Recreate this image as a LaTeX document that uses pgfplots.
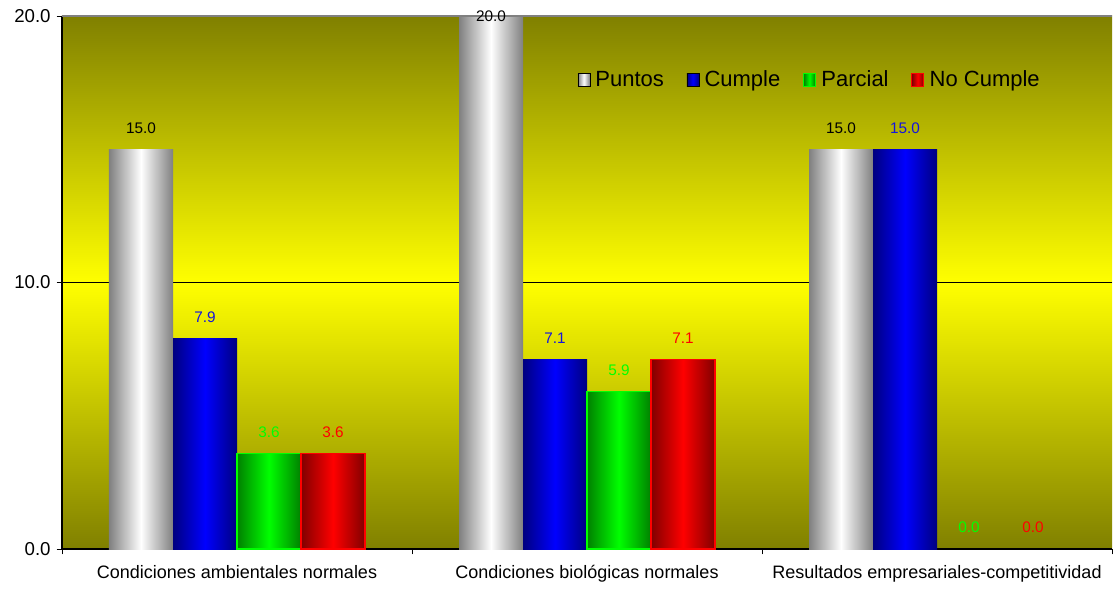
\documentclass[border=0pt]{standalone}
\usepackage{fontspec}
\setmainfont{Liberation Sans}
\usepackage{pgfplots}
\pgfplotsset{compat=1.18}
\definecolor{olivebg}{RGB}{128,128,0}
\definecolor{yellowbg}{RGB}{255,255,0}
\definecolor{grayedge}{RGB}{128,128,128}
\definecolor{blueedge}{RGB}{0,0,128}
\definecolor{bluemid}{RGB}{0,0,255}
\definecolor{greenedge}{RGB}{0,128,0}
\definecolor{greenmid}{RGB}{0,255,0}
\definecolor{rededge}{RGB}{128,0,0}
\definecolor{redmid}{RGB}{255,0,0}
\definecolor{bluelbl}{RGB}{20,20,220}
\pgfplotsset{
  puntos/.style={draw=none, left color=grayedge, right color=grayedge, middle color=white,
    every node near coord/.append style={black}},
  cumple/.style={draw=none, left color=blueedge, right color=blueedge, middle color=bluemid,
    every node near coord/.append style={bluelbl}},
  parcial/.style={draw=greenmid, line width=0.8pt, left color=greenedge, right color=greenedge, middle color=greenmid,
    every node near coord/.append style={greenmid}},
  nocumple/.style={draw=redmid, line width=0.8pt, left color=rededge, right color=rededge, middle color=redmid,
    every node near coord/.append style={redmid}},
}
\begin{document}
\begin{tikzpicture}
\shade[top color=yellowbg, bottom color=olivebg] (0,0) rectangle (787.5pt,199.875pt);
\shade[top color=olivebg, bottom color=yellowbg] (0,199.875pt) rectangle (787.5pt,399.75pt);
\begin{axis}[
  at={(0,0)}, anchor=south west,
  scale only axis, width=787.5pt, height=399.75pt,
  xmin=-0.5, xmax=2.5, ymin=0, ymax=20,
  ybar, bar width=48pt,
  xtick={-0.5,0.5,1.5,2.5},
  x tick label as interval,
  xticklabels={Condiciones ambientales normales,Condiciones biológicas normales,Resultados empresariales-competitividad},
  xticklabel style={font=\fontsize{13.5}{15}\selectfont, yshift=-5pt},
  ytick={0,10,20},
  yticklabel style={font=\fontsize{14}{16}\selectfont, xshift=-1pt},
  /pgf/number format/assume math mode=true,
  /pgf/number format/fixed, /pgf/number format/fixed zerofill, /pgf/number format/precision=1,
  ymajorgrids, grid style={black, line width=0.5pt},
  axis x line*=bottom, axis y line*=left,
  axis line style={black, line width=0.8pt},
  tick align=outside, major tick length=4pt, tick style={black, line width=0.6pt},
  nodes near coords,
  nodes near coords align={anchor=center},
  every node near coord/.append style={font=\fontsize{11.5}{13}\selectfont, yshift=16pt},
  legend columns=-1,
  legend style={at={(rel axis cs:0.487,0.88)}, anchor=west, draw=none, fill=none,
    font=\fontsize{16.5}{19}\selectfont,
    /tikz/every odd column/.append style={column sep=2pt},
    /tikz/every even column/.append style={column sep=15pt}},
  legend image code/.code={\draw[#1] (0pt,-5pt) rectangle (9pt,5pt);},
]
\addlegendimage{puntos}
\addlegendimage{cumple}
\addlegendimage{parcial}
\addlegendimage{nocumple}
% Puntos
\addplot[puntos, bar shift=-72pt] coordinates {(0,15)};
\addplot[puntos, bar shift=-72pt, every node near coord/.append style={yshift=-16pt}] coordinates {(1,20)};
\addplot[puntos, bar shift=-72pt] coordinates {(2,15)};
% Cumple
\addplot[cumple, bar shift=-24pt] coordinates {(0,7.9)};
\addplot[cumple, bar shift=-24pt] coordinates {(1,7.1)};
\addplot[cumple, bar shift=-24pt] coordinates {(2,15)};
% Parcial
\addplot[parcial, bar shift=24pt] coordinates {(0,3.6)};
\addplot[parcial, bar shift=24pt] coordinates {(1,5.9)};
\addplot[parcial, bar shift=24pt, draw=none] coordinates {(2,0)};
% No Cumple
\addplot[nocumple, bar shift=72pt] coordinates {(0,3.6)};
\addplot[nocumple, bar shift=72pt] coordinates {(1,7.1)};
\addplot[nocumple, bar shift=72pt, draw=none] coordinates {(2,0)};
\legend{Puntos,Cumple,Parcial,No Cumple}
\draw[grayedge, line width=1.2pt] (rel axis cs:0,1) -- (rel axis cs:1,1);
\end{axis}
\path (-46.5pt,-30.75pt) rectangle (790.5pt,411.75pt);
\end{tikzpicture}
\end{document}
